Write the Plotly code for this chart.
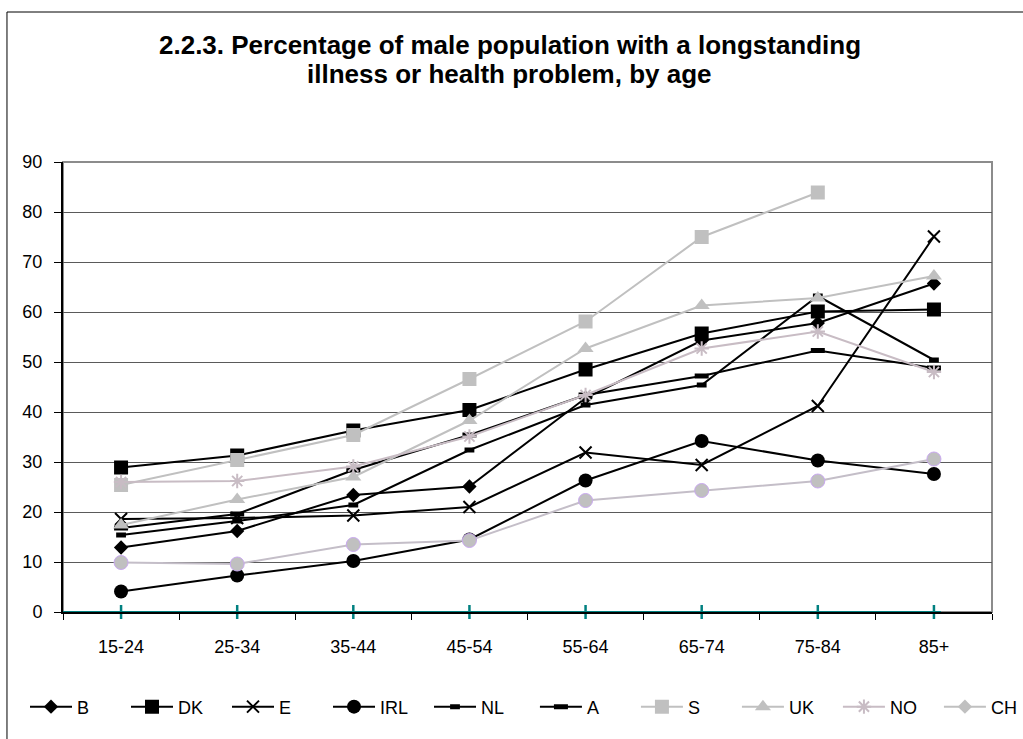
import plotly.graph_objects as go

# Age groups on the category axis
ages = ["15-24", "25-34", "35-44", "45-54", "55-64", "65-74", "75-84", "85+"]

# Percentage of male population with a longstanding illness, by country
b_vals = [12.9, 16.2, 23.4, 25.1, 42.8, 54.3, 57.8, 65.7]
dk_vals = [28.9, 31.3, 36.3, 40.4, 48.5, 55.7, 60.1, 60.5]
e_vals = [18.6, 18.8, 19.3, 21.0, 31.9, 29.4, 41.2, 75.1]
irl_vals = [4.1, 7.3, 10.2, 14.5, 26.3, 34.2, 30.3, 27.6]
nl_vals = [15.4, 18.2, 21.4, 32.4, 41.4, 45.4, 63.2, 50.4]
a_vals = [16.8, 19.6, 28.4, 35.4, 43.4, 47.2, 52.3, 48.8]
s_vals = [25.4, 30.4, 35.4, 46.6, 58.1, 75.0, 83.9, None]
uk_vals = [17.4, 22.5, 27.0, 38.3, 52.7, 61.3, 62.8, 67.2]
no_vals = [26.0, 26.2, 29.1, 35.1, 43.4, 52.7, 56.1, 48.0]
ch_vals = [9.9, 9.6, 13.5, 14.3, 22.3, 24.3, 26.2, 30.6]
baseline_vals = [0, 0, 0, 0, 0, 0, 0, 0]

title_lines = ["2.2.3. Percentage of male population with a longstanding",
               "illness or health problem, by age"]

FONT = "Liberation Sans, Arial, sans-serif"
BLACK = "#000000"
GREY = "#C0C0C0"
PINK_GREY = "#C8BCC4"
LAVENDER = "#C9A8F0"
TEAL = "#008080"

# name, values, line colour, marker, legend box
series = [
    ("B", b_vals, BLACK, dict(symbol="diamond", size=11, color=BLACK), "legend"),
    ("DK", dk_vals, BLACK, dict(symbol="square", size=14, color=BLACK), "legend"),
    ("E", e_vals, BLACK, dict(symbol="x-thin-open", size=12, color=BLACK, line=dict(width=2, color=BLACK)), "legend"),
    ("IRL", irl_vals, BLACK, dict(symbol="circle", size=14, color=BLACK), "legend"),
    ("NL", nl_vals, BLACK, dict(symbol="line-ew-open", size=7, color=BLACK, line=dict(width=5, color=BLACK)), "legend"),
    ("A", a_vals, BLACK, dict(symbol="line-ew-open", size=10, color=BLACK, line=dict(width=5, color=BLACK)), "legend2"),
    ("S", s_vals, GREY, dict(symbol="square", size=14, color=GREY), "legend2"),
    ("UK", uk_vals, GREY, dict(symbol="triangle-up", size=14, color=GREY), "legend2"),
    ("NO", no_vals, PINK_GREY, dict(symbol="asterisk-open", size=12, color=PINK_GREY, line=dict(width=2, color=PINK_GREY)), "legend2"),
]

fig = go.Figure()

# Teal baseline with centre tick marks along the category axis
fig.add_shape(type="line", xref="x", yref="y", x0=-0.5, x1=7.06, y0=0, y1=0,
              line=dict(color=TEAL, width=2), layer="above")
fig.add_trace(go.Scatter(
    x=ages, y=baseline_vals, mode="markers", showlegend=False, hoverinfo="skip",
    cliponaxis=False,
    marker=dict(symbol="line-ns-open", size=10, color=TEAL, line=dict(width=2.5, color=TEAL)),
))

for name, vals, color, marker, leg in series:
    fig.add_trace(go.Scatter(
        x=ages, y=vals, name=name, mode="lines+markers", legend=leg,
        line=dict(color=color, width=2), marker=marker, cliponaxis=False,
    ))

# CH is drawn with round markers, listed in the key with a diamond
fig.add_trace(go.Scatter(
    x=ages, y=ch_vals, name="CH", mode="lines+markers", showlegend=False,
    line=dict(color="#C4BEC8", width=2), cliponaxis=False,
    marker=dict(symbol="circle", size=14, color=GREY, line=dict(width=1, color=LAVENDER)),
))
fig.add_trace(go.Scatter(
    x=[None], y=[None], name="CH", mode="lines+markers", legend="legend2",
    line=dict(color=GREY, width=2),
    marker=dict(symbol="diamond", size=11, color=GREY),
))

# Grey frame around the plotting area and black frame around the chart
fig.add_shape(type="rect", xref="paper", yref="paper", x0=0, x1=1, y0=0, y1=1,
              line=dict(color="#8C8C8C", width=2), layer="below")
fig.add_shape(type="rect", xref="paper", yref="paper", x0=-0.0603, x1=1.2, y0=-0.5, y1=1.3333,
              line=dict(color=BLACK, width=1), layer="below")

# Two-line bold title
for line_text, ypos in zip(title_lines, [1.260, 1.1956]):
    fig.add_annotation(
        text="<b>" + line_text + "</b>",
        xref="paper", yref="paper", x=0.481, y=ypos, xanchor="center", yanchor="middle",
        showarrow=False, font=dict(family=FONT, size=26, color=BLACK),
    )

legend_style = dict(orientation="h", yanchor="middle", y=-0.211, xanchor="left",
                    font=dict(family=FONT, size=18, color=BLACK),
                    bgcolor="rgba(0,0,0,0)", itemsizing="trace",
                    itemwidth=42, entrywidth=44)

fig.update_layout(
    width=1023, height=739, autosize=False,
    margin=dict(l=63, r=31, t=162, b=127, pad=0, autoexpand=False),
    paper_bgcolor="white", plot_bgcolor="white",
    font=dict(family=FONT, size=18, color=BLACK),
    showlegend=True,
    legend=dict(legend_style, x=-0.0409),
    legend2=dict(legend_style, x=0.508),
    xaxis=dict(type="category", range=[-0.5, 7.5], showgrid=False, zeroline=False,
               showline=True, linecolor=BLACK, linewidth=1.5,
               ticks="outside", tickson="boundaries", ticklen=6, tickcolor=BLACK, tickwidth=1,
               ticklabelstandoff=18, tickangle=0,
               tickfont=dict(family=FONT, size=18, color=BLACK)),
    yaxis=dict(range=[0, 90], dtick=10, showgrid=True, gridcolor="#5A5A5A", gridwidth=1,
               zeroline=False, showline=True, linecolor=BLACK, linewidth=2,
               ticks="outside", ticklen=7, tickcolor=BLACK, tickwidth=1,
               ticklabelstandoff=8,
               tickfont=dict(family=FONT, size=18, color=BLACK)),
)

fig.write_html("out.html")
